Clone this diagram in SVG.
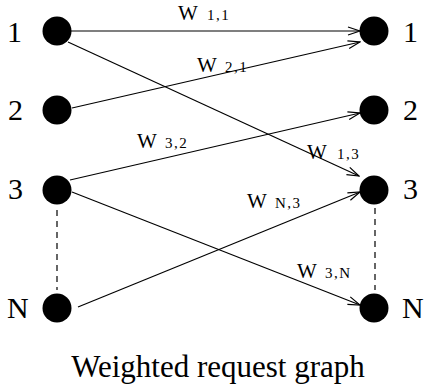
<svg xmlns="http://www.w3.org/2000/svg" width="426" height="388" viewBox="0 0 426 388">
<style>
text{font-family:'Liberation Serif','Times New Roman',Times,serif;fill:#000}
.node{fill:#000}
.lbl{font-size:30px}
.w{font-size:21px}
.s{font-size:15px;letter-spacing:1.5px}
.e{stroke:#000;stroke-width:1.2;fill:none;marker-end:url(#arr)}
.d{stroke:#000;stroke-width:1.2;fill:none;stroke-dasharray:6 5}
.cap{font-size:31px}
</style>
<defs>
<marker id="arr" markerWidth="14" markerHeight="10" refX="13" refY="5" orient="auto" markerUnits="userSpaceOnUse">
<path d="M1,1 L13,5 L1,9" fill="none" stroke="#000" stroke-width="1.2"/>
</marker>
</defs>
<g id="connectors">
<line class="e" x1="71" y1="31" x2="360" y2="31"/>
<line class="e" x1="68" y1="42" x2="359" y2="176"/>
<line class="e" x1="72" y1="108" x2="360" y2="42"/>
<line class="e" x1="70" y1="180" x2="360" y2="113"/>
<line class="e" x1="78" y1="307" x2="360" y2="192"/>
<line class="e" x1="72" y1="192" x2="360" y2="305"/>
<line class="d" x1="57" y1="210" x2="57" y2="290"/>
<line class="d" x1="375" y1="208" x2="375" y2="290"/>
</g>
<g id="weights" font-family="Liberation Serif, serif">
<text class="w" x="178" y="20">W</text><text class="s" x="207" y="20">1,1</text>
<text class="w" x="197" y="72">W</text><text class="s" x="225" y="72">2,1</text>
<text class="w" x="137" y="148">W</text><text class="s" x="165" y="148">3,2</text>
<text class="w" x="307" y="159">W</text><text class="s" x="337" y="159">1,3</text>
<text class="w" x="247" y="208">W</text><text class="s" x="275" y="208">N,3</text>
<text class="w" x="297" y="278">W</text><text class="s" x="325" y="278">3,N</text>
</g>
<g id="L1"><circle class="node" cx="57" cy="31" r="14.5"/><text class="lbl" x="7" y="42">1</text></g>
<g id="L2"><circle class="node" cx="57" cy="110" r="14.5"/><text class="lbl" x="8" y="120">2</text></g>
<g id="L3"><circle class="node" cx="57" cy="190" r="14.5"/><text class="lbl" x="8" y="199">3</text></g>
<g id="LN"><circle class="node" cx="57" cy="308" r="14.5"/><text class="lbl" x="7" y="318">N</text></g>
<g id="R1"><circle class="node" cx="374" cy="31" r="14.5"/><text class="lbl" x="403" y="42">1</text></g>
<g id="R2"><circle class="node" cx="374" cy="110" r="14.5"/><text class="lbl" x="403" y="120">2</text></g>
<g id="R3"><circle class="node" cx="374" cy="190" r="14.5"/><text class="lbl" x="403" y="199">3</text></g>
<g id="RN"><circle class="node" cx="374" cy="308" r="14.5"/><text class="lbl" x="402" y="318">N</text></g>
<text class="cap" x="218" y="377" text-anchor="middle">Weighted request graph</text>
</svg>
